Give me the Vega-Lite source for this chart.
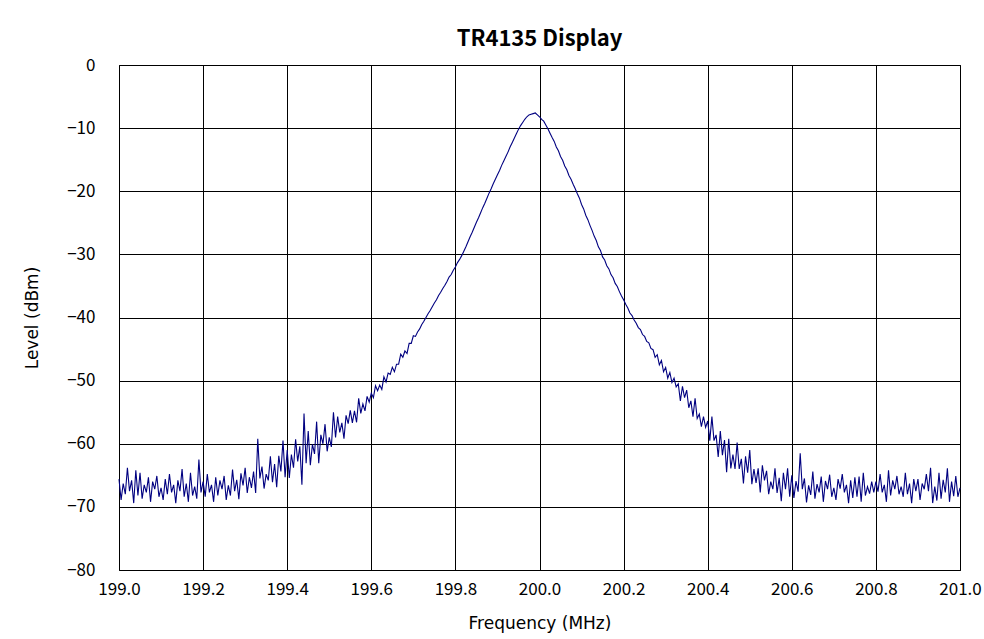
{
"$schema":"https://vega.github.io/schema/vega-lite/v6.json",
"width":841,"height":505,
"autosize":{"type":"none"},
"padding":{"left":119,"top":65,"right":24,"bottom":69},
"background":"white",
"title":{"text":"TR4135 Display","fontSize":22,"font":"Noto Sans CJK JP","fontWeight":"bold","color":"#000","anchor":"middle","offset":5},
"data":{"values":[
{"f":199,"l":-65.6},{"f":199.005,"l":-68.9},{"f":199.01,"l":-66.3},{"f":199.015,"l":-68.0},{"f":199.02,"l":-63.8},{"f":199.025,"l":-67.5},{"f":199.03,"l":-65.8},{"f":199.035,"l":-69.4},{"f":199.04,"l":-64.2},{"f":199.045,"l":-68.2},
{"f":199.05,"l":-64.6},{"f":199.055,"l":-68.7},{"f":199.06,"l":-66.5},{"f":199.065,"l":-67.7},{"f":199.07,"l":-65.3},{"f":199.075,"l":-69.2},{"f":199.08,"l":-66.0},{"f":199.085,"l":-67.2},{"f":199.09,"l":-65.1},{"f":199.095,"l":-68.4},
{"f":199.1,"l":-67.0},{"f":199.105,"l":-68.9},{"f":199.11,"l":-65.6},{"f":199.115,"l":-68.0},{"f":199.12,"l":-64.8},{"f":199.125,"l":-67.7},{"f":199.13,"l":-66.5},{"f":199.135,"l":-69.4},{"f":199.14,"l":-65.8},{"f":199.145,"l":-67.5},
{"f":199.15,"l":-64.0},{"f":199.155,"l":-68.4},{"f":199.16,"l":-66.3},{"f":199.165,"l":-69.2},{"f":199.17,"l":-64.6},{"f":199.175,"l":-68.2},{"f":199.18,"l":-66.8},{"f":199.185,"l":-68.7},{"f":199.19,"l":-62.5},{"f":199.195,"l":-67.7},
{"f":199.2,"l":-66.0},{"f":199.205,"l":-68.4},{"f":199.21,"l":-64.8},{"f":199.215,"l":-67.7},{"f":199.22,"l":-66.5},{"f":199.225,"l":-69.2},{"f":199.23,"l":-65.3},{"f":199.235,"l":-68.2},{"f":199.24,"l":-65.8},{"f":199.245,"l":-67.2},
{"f":199.25,"l":-65.1},{"f":199.255,"l":-68.9},{"f":199.26,"l":-66.6},{"f":199.265,"l":-68.2},{"f":199.27,"l":-64.1},{"f":199.275,"l":-67.5},{"f":199.28,"l":-65.7},{"f":199.285,"l":-68.8},{"f":199.29,"l":-64.7},{"f":199.295,"l":-66.6},
{"f":199.3,"l":-63.8},{"f":199.305,"l":-67.8},{"f":199.31,"l":-65.3},{"f":199.315,"l":-67.0},{"f":199.32,"l":-64.4},{"f":199.325,"l":-67.8},{"f":199.33,"l":-59.2},{"f":199.335,"l":-65.5},{"f":199.34,"l":-63.6},{"f":199.345,"l":-67.1},
{"f":199.35,"l":-64.8},{"f":199.355,"l":-65.8},{"f":199.36,"l":-62.0},{"f":199.365,"l":-66.1},{"f":199.37,"l":-63.2},{"f":199.375,"l":-66.9},{"f":199.38,"l":-61.9},{"f":199.385,"l":-64.4},{"f":199.39,"l":-59.5},{"f":199.395,"l":-65.3},
{"f":199.4,"l":-61.0},{"f":199.405,"l":-65.4},{"f":199.41,"l":-61.7},{"f":199.415,"l":-63.8},{"f":199.42,"l":-59.3},{"f":199.425,"l":-62.8},{"f":199.43,"l":-60.4},{"f":199.435,"l":-66.5},{"f":199.44,"l":-55.2},{"f":199.445,"l":-63.1},
{"f":199.45,"l":-58.0},{"f":199.455,"l":-63.4},{"f":199.46,"l":-60.1},{"f":199.465,"l":-61.6},{"f":199.47,"l":-56.5},{"f":199.475,"l":-63.1},{"f":199.48,"l":-58.6},{"f":199.485,"l":-60.0},{"f":199.49,"l":-56.9},{"f":199.495,"l":-61.2},
{"f":199.5,"l":-59.0},{"f":199.505,"l":-60.5},{"f":199.51,"l":-55.0},{"f":199.515,"l":-59.0},{"f":199.52,"l":-55.7},{"f":199.525,"l":-58.2},{"f":199.53,"l":-56.7},{"f":199.535,"l":-59.2},{"f":199.54,"l":-55.5},{"f":199.545,"l":-56.8},
{"f":199.55,"l":-54.7},{"f":199.555,"l":-56.7},{"f":199.56,"l":-54.8},{"f":199.565,"l":-56.6},{"f":199.57,"l":-52.8},{"f":199.575,"l":-55.2},{"f":199.58,"l":-53.7},{"f":199.585,"l":-54.8},{"f":199.59,"l":-52.5},{"f":199.595,"l":-53.4},
{"f":199.6,"l":-52.0},{"f":199.605,"l":-52.7},{"f":199.61,"l":-50.8},{"f":199.615,"l":-51.6},{"f":199.62,"l":-50.7},{"f":199.625,"l":-51.4},{"f":199.63,"l":-49.4},{"f":199.635,"l":-50.2},{"f":199.64,"l":-48.8},{"f":199.645,"l":-49.0},
{"f":199.65,"l":-47.9},{"f":199.655,"l":-48.6},{"f":199.66,"l":-47.4},{"f":199.665,"l":-47.4},{"f":199.67,"l":-45.8},{"f":199.675,"l":-46.3},{"f":199.68,"l":-45.3},{"f":199.685,"l":-45.7},{"f":199.69,"l":-44.1},{"f":199.695,"l":-44.1},
{"f":199.7,"l":-42.9},{"f":199.705,"l":-43.0},{"f":199.71,"l":-42.3},{"f":199.715,"l":-41.8},{"f":199.72,"l":-41.1},{"f":199.725,"l":-40.6},{"f":199.73,"l":-40.0},{"f":199.735,"l":-39.4},{"f":199.74,"l":-38.9},{"f":199.745,"l":-38.3},
{"f":199.75,"l":-37.7},{"f":199.755,"l":-37.2},{"f":199.76,"l":-36.5},{"f":199.765,"l":-36.0},{"f":199.77,"l":-35.4},{"f":199.775,"l":-34.9},{"f":199.78,"l":-34.3},{"f":199.785,"l":-33.6},{"f":199.79,"l":-33.2},{"f":199.795,"l":-32.5},
{"f":199.8,"l":-32.0},{"f":199.805,"l":-31.3},{"f":199.81,"l":-30.8},{"f":199.815,"l":-30.2},{"f":199.82,"l":-29.5},{"f":199.825,"l":-28.8},{"f":199.83,"l":-28.0},{"f":199.835,"l":-27.2},{"f":199.84,"l":-26.5},{"f":199.845,"l":-25.7},
{"f":199.85,"l":-24.9},{"f":199.855,"l":-24.2},{"f":199.86,"l":-23.4},{"f":199.865,"l":-22.6},{"f":199.87,"l":-21.9},{"f":199.875,"l":-21.1},{"f":199.88,"l":-20.3},{"f":199.885,"l":-19.6},{"f":199.89,"l":-18.8},{"f":199.895,"l":-18.1},
{"f":199.9,"l":-17.4},{"f":199.905,"l":-16.7},{"f":199.91,"l":-15.9},{"f":199.915,"l":-15.2},{"f":199.92,"l":-14.5},{"f":199.925,"l":-13.8},{"f":199.93,"l":-13.0},{"f":199.935,"l":-12.3},{"f":199.94,"l":-11.6},{"f":199.945,"l":-10.9},
{"f":199.95,"l":-10.2},{"f":199.955,"l":-9.6},{"f":199.96,"l":-9.1},{"f":199.965,"l":-8.6},{"f":199.97,"l":-8.2},{"f":199.975,"l":-7.9},{"f":199.98,"l":-7.8},{"f":199.985,"l":-7.7},{"f":199.99,"l":-7.6},{"f":199.995,"l":-7.9},
{"f":200,"l":-8.2},{"f":200.005,"l":-8.6},{"f":200.01,"l":-8.9},{"f":200.015,"l":-9.5},{"f":200.02,"l":-10.1},{"f":200.025,"l":-10.8},{"f":200.03,"l":-11.5},{"f":200.035,"l":-12.1},{"f":200.04,"l":-13.0},{"f":200.045,"l":-13.6},
{"f":200.05,"l":-14.5},{"f":200.055,"l":-15.1},{"f":200.06,"l":-16.0},{"f":200.065,"l":-16.6},{"f":200.07,"l":-17.5},{"f":200.075,"l":-18.1},{"f":200.08,"l":-18.9},{"f":200.085,"l":-19.6},{"f":200.09,"l":-20.4},{"f":200.095,"l":-21.1},
{"f":200.1,"l":-22.1},{"f":200.105,"l":-22.8},{"f":200.11,"l":-23.8},{"f":200.115,"l":-24.5},{"f":200.12,"l":-25.4},{"f":200.125,"l":-26.2},{"f":200.13,"l":-27.1},{"f":200.135,"l":-27.8},{"f":200.14,"l":-28.8},{"f":200.145,"l":-29.4},
{"f":200.15,"l":-30.4},{"f":200.155,"l":-30.9},{"f":200.16,"l":-31.8},{"f":200.165,"l":-32.3},{"f":200.17,"l":-33.2},{"f":200.175,"l":-33.7},{"f":200.18,"l":-34.6},{"f":200.185,"l":-35.1},{"f":200.19,"l":-35.9},{"f":200.195,"l":-36.6},
{"f":200.2,"l":-37.2},{"f":200.205,"l":-37.9},{"f":200.21,"l":-38.5},{"f":200.215,"l":-39.3},{"f":200.22,"l":-39.7},{"f":200.225,"l":-40.4},{"f":200.23,"l":-40.9},{"f":200.235,"l":-41.6},{"f":200.24,"l":-41.9},{"f":200.245,"l":-42.7},
{"f":200.25,"l":-43.0},{"f":200.255,"l":-43.8},{"f":200.26,"l":-44.0},{"f":200.265,"l":-44.9},{"f":200.27,"l":-45.1},{"f":200.275,"l":-46.3},{"f":200.28,"l":-45.9},{"f":200.285,"l":-47.5},{"f":200.29,"l":-46.8},{"f":200.295,"l":-48.6},
{"f":200.3,"l":-47.9},{"f":200.305,"l":-49.6},{"f":200.31,"l":-48.7},{"f":200.315,"l":-50.3},{"f":200.32,"l":-49.6},{"f":200.325,"l":-51.0},{"f":200.33,"l":-50.5},{"f":200.335,"l":-53.2},{"f":200.34,"l":-50.9},{"f":200.345,"l":-52.7},
{"f":200.35,"l":-51.5},{"f":200.355,"l":-54.3},{"f":200.36,"l":-53.2},{"f":200.365,"l":-55.7},{"f":200.37,"l":-52.8},{"f":200.375,"l":-56.0},{"f":200.38,"l":-55.3},{"f":200.385,"l":-57.3},{"f":200.39,"l":-55.7},{"f":200.395,"l":-57.4},
{"f":200.4,"l":-56.4},{"f":200.405,"l":-59.5},{"f":200.41,"l":-55.7},{"f":200.415,"l":-59.5},{"f":200.42,"l":-58.6},{"f":200.425,"l":-62.1},{"f":200.43,"l":-58.0},{"f":200.435,"l":-61.8},{"f":200.44,"l":-59.4},{"f":200.445,"l":-64.5},
{"f":200.45,"l":-59.2},{"f":200.455,"l":-63.9},{"f":200.46,"l":-61.7},{"f":200.465,"l":-64.0},{"f":200.47,"l":-59.8},{"f":200.475,"l":-64.0},{"f":200.48,"l":-62.4},{"f":200.485,"l":-66.3},{"f":200.49,"l":-62.0},{"f":200.495,"l":-64.6},
{"f":200.5,"l":-61.0},{"f":200.505,"l":-66.4},{"f":200.51,"l":-64.0},{"f":200.515,"l":-66.2},{"f":200.52,"l":-63.9},{"f":200.525,"l":-67.7},{"f":200.53,"l":-63.4},{"f":200.535,"l":-65.8},{"f":200.54,"l":-64.3},{"f":200.545,"l":-68.0},
{"f":200.55,"l":-66.0},{"f":200.555,"l":-67.2},{"f":200.56,"l":-63.9},{"f":200.565,"l":-67.8},{"f":200.57,"l":-65.4},{"f":200.575,"l":-69.1},{"f":200.58,"l":-64.6},{"f":200.585,"l":-67.2},{"f":200.59,"l":-63.9},{"f":200.595,"l":-68.4},
{"f":200.6,"l":-65.0},{"f":200.605,"l":-68.6},{"f":200.61,"l":-65.9},{"f":200.615,"l":-67.6},{"f":200.62,"l":-61.5},{"f":200.625,"l":-67.2},{"f":200.63,"l":-65.5},{"f":200.635,"l":-69.3},{"f":200.64,"l":-66.6},{"f":200.645,"l":-68.1},
{"f":200.65,"l":-64.4},{"f":200.655,"l":-68.7},{"f":200.66,"l":-66.4},{"f":200.665,"l":-67.7},{"f":200.67,"l":-65.2},{"f":200.675,"l":-69.2},{"f":200.68,"l":-65.9},{"f":200.685,"l":-67.2},{"f":200.69,"l":-64.9},{"f":200.695,"l":-68.4},
{"f":200.7,"l":-67.0},{"f":200.705,"l":-68.9},{"f":200.71,"l":-65.6},{"f":200.715,"l":-67.1},{"f":200.72,"l":-64.8},{"f":200.725,"l":-67.7},{"f":200.73,"l":-66.5},{"f":200.735,"l":-69.4},{"f":200.74,"l":-65.8},{"f":200.745,"l":-68.6},
{"f":200.75,"l":-65.3},{"f":200.755,"l":-68.4},{"f":200.76,"l":-65.2},{"f":200.765,"l":-69.2},{"f":200.77,"l":-64.6},{"f":200.775,"l":-68.2},{"f":200.78,"l":-66.8},{"f":200.785,"l":-67.9},{"f":200.79,"l":-66.0},{"f":200.795,"l":-67.7},
{"f":200.8,"l":-66.0},{"f":200.805,"l":-67.6},{"f":200.81,"l":-64.8},{"f":200.815,"l":-67.7},{"f":200.82,"l":-66.5},{"f":200.825,"l":-69.2},{"f":200.83,"l":-64.2},{"f":200.835,"l":-68.2},{"f":200.84,"l":-65.8},{"f":200.845,"l":-67.2},
{"f":200.85,"l":-65.1},{"f":200.855,"l":-68.0},{"f":200.86,"l":-66.8},{"f":200.865,"l":-68.4},{"f":200.87,"l":-64.6},{"f":200.875,"l":-68.0},{"f":200.88,"l":-66.3},{"f":200.885,"l":-69.4},{"f":200.89,"l":-65.6},{"f":200.895,"l":-67.5},
{"f":200.9,"l":-65.6},{"f":200.905,"l":-68.9},{"f":200.91,"l":-66.3},{"f":200.915,"l":-67.2},{"f":200.92,"l":-64.8},{"f":200.925,"l":-67.5},{"f":200.93,"l":-63.8},{"f":200.935,"l":-69.4},{"f":200.94,"l":-66.8},{"f":200.945,"l":-69.0},
{"f":200.95,"l":-64.6},{"f":200.955,"l":-68.7},{"f":200.96,"l":-65.7},{"f":200.965,"l":-67.7},{"f":200.97,"l":-63.9},{"f":200.975,"l":-69.2},{"f":200.98,"l":-66.0},{"f":200.985,"l":-68.3},{"f":200.99,"l":-65.1},{"f":200.995,"l":-68.4},
{"f":201,"l":-67.0}
]},
"mark":{"type":"line","color":"#000080","strokeWidth":1.1,"interpolate":"linear"},
"encoding":{
"x":{"field":"f","type":"quantitative","scale":{"domain":[199,201],"nice":false,"zero":false},
"axis":{"title":"Frequency (MHz)","values":[199,199.2,199.4,199.6,199.8,200,200.2,200.4,200.6,200.8,201],"format":".1f","grid":true,"gridColor":"#000","gridWidth":1,"ticks":false,"domain":false,"labelPadding":11,"titlePadding":18,"labelFlush":false}},
"y":{"field":"l","type":"quantitative","scale":{"domain":[-80,0],"nice":false,"zero":false},
"axis":{"title":"Level (dBm)","values":[-80,-70,-60,-50,-40,-30,-20,-10,0],"format":"d","grid":true,"gridColor":"#000","gridWidth":1,"ticks":false,"domain":false,"labelPadding":24,"titlePadding":25}}
},
"config":{
"view":{"stroke":"#000","strokeWidth":1},
"axis":{"labelFont":"Noto Sans CJK JP","labelFontSize":17,"labelColor":"#000","titleFont":"DejaVu Sans","titleFontSize":17,"titleFontWeight":"normal","titleColor":"#000"}
}
}
